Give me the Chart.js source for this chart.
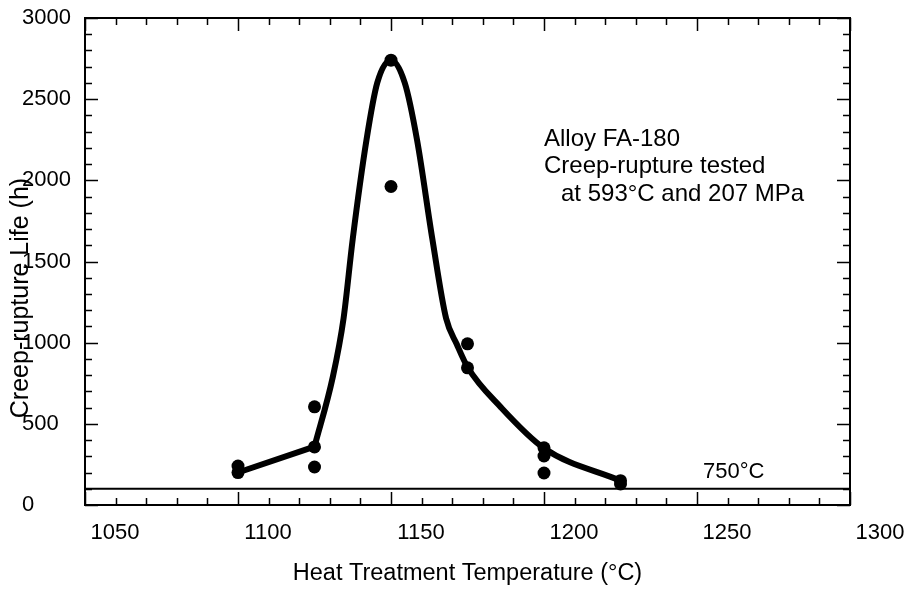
<!DOCTYPE html>
<html lang="en">
<head>
  <meta charset="UTF-8" />
  <title>Alloy FA-180 Creep-rupture Life</title>
  <script src="https://cdn.jsdelivr.net/npm/chart.js"></script>
  <style>
    html, body {
      margin: 0;
      padding: 0;
      background: #fff;
    }
    canvas {
      display: block;
    }
  </style>
</head>
<body>
  <canvas id="creepChart" width="907" height="591"></canvas>

  <script>
    // measured rupture lives (h) at each heat treatment temperature (°C)
    const pointTemps = [1100, 1100, 1125, 1125, 1125, 1150, 1150, 1175, 1175, 1200, 1200, 1200, 1225, 1225];
    const pointLives = [240, 200, 605, 358, 234, 2740, 1962, 993, 845, 352, 302, 197, 150, 130];

    // hand-drawn trend: straight piece at the low end, then the smooth peak
    const lowTemps = [1100, 1125];
    const lowLives = [200, 360];
    const curveTemps = [1125, 1131, 1134.5, 1137.5, 1142, 1145.5, 1150, 1154.5, 1158.5, 1163.5, 1168, 1171.5, 1175, 1186, 1200, 1225];
    const curveLives = [360, 790, 1150, 1640, 2250, 2600, 2740, 2600, 2250, 1640, 1150, 990, 850, 600, 350, 150];

    // 750°C reference line
    const refLife = 100;
    const refLabel = '750°C';

    // axes
    const xMin = 1050, xMax = 1300, xMajor = 50, xMinor = 10;
    const yMin = 0, yMax = 3000, yMajor = 500, yMinor = 100;
    const xTitle = 'Heat Treatment Temperature (°C)';
    const yTitle = 'Creep-rupture Life (h)';
    const noteLines = ['Alloy FA-180', 'Creep-rupture tested', 'at 593°C and 207 MPa'];

    const FONT = '"Liberation Sans", Arial, Helvetica, sans-serif';

    const toXY = (xs, ys) => xs.map((t, i) => ({ x: t, y: ys[i] }));

    // inward tick marks on all four sides, the frame and the free text
    const frameAndTicks = {
      id: 'frameAndTicks',
      afterDraw(chart) {
        const { ctx, chartArea: a, scales: { x, y } } = chart;
        ctx.save();
        ctx.strokeStyle = '#000';
        ctx.lineWidth = 1.5;
        ctx.beginPath();
        for (let i = 0; i <= (xMax - xMin) / xMinor; i++) {
          const t = xMin + i * xMinor;
          const px = Math.round(x.getPixelForValue(t)) + 0.5;
          const len = (t - xMin) % xMajor === 0 ? 13 : 7;
          ctx.moveTo(px, a.bottom); ctx.lineTo(px, a.bottom - len);
          ctx.moveTo(px, a.top); ctx.lineTo(px, a.top + len);
        }
        for (let i = 0; i <= (yMax - yMin) / yMinor; i++) {
          const v = yMin + i * yMinor;
          const py = Math.round(y.getPixelForValue(v)) + 0.5;
          const len = (v - yMin) % yMajor === 0 ? 13 : 7;
          ctx.moveTo(a.left, py); ctx.lineTo(a.left + len, py);
          ctx.moveTo(a.right, py); ctx.lineTo(a.right - len, py);
        }
        ctx.stroke();

        ctx.lineWidth = 2;
        ctx.strokeRect(a.left, a.top, a.right - a.left, a.bottom - a.top);

        ctx.fillStyle = '#000';

        // y title overlaps the tick labels, as in the original
        ctx.save();
        ctx.translate(21, a.top + (a.bottom - a.top) * 0.575);
        ctx.rotate(-Math.PI / 2);
        ctx.font = '25px ' + FONT;
        ctx.textAlign = 'center';
        ctx.textBaseline = 'middle';
        ctx.fillText(yTitle, 0, 0);
        ctx.restore();

        // reference line label
        ctx.font = '22px ' + FONT;
        ctx.textAlign = 'left';
        ctx.textBaseline = 'alphabetic';
        ctx.fillText(refLabel, x.getPixelForValue(1252), y.getPixelForValue(refLife) - 11);

        // test conditions note
        ctx.font = '24px ' + FONT;
        const nx = x.getPixelForValue(1200);
        const baselines = [146, 173, 201];
        const indents = [0, 0, 17];
        noteLines.forEach((s, i) => ctx.fillText(s, nx + indents[i], baselines[i]));

        ctx.restore();
      }
    };

    const ctx = document.getElementById('creepChart').getContext('2d');

    const trendStyle = {
      showLine: true,
      borderColor: '#000',
      borderWidth: 6,
      pointRadius: 0,
      borderCapStyle: 'round',
      borderJoinStyle: 'round',
      order: 2
    };

    new Chart(ctx, {
      type: 'scatter',
      data: {
        datasets: [
          {
            label: 'Measured',
            data: toXY(pointTemps, pointLives),
            pointRadius: 6.5,
            pointBackgroundColor: '#000',
            pointBorderWidth: 0,
            showLine: false,
            order: 1
          },
          {
            label: 'Trend (low)',
            data: toXY(lowTemps, lowLives),
            ...trendStyle,
            tension: 0
          },
          {
            label: 'Trend',
            data: toXY(curveTemps, curveLives),
            ...trendStyle,
            cubicInterpolationMode: 'monotone'
          },
          {
            label: refLabel,
            data: [{ x: xMin, y: refLife }, { x: xMax, y: refLife }],
            showLine: true,
            borderColor: '#000',
            borderWidth: 1.8,
            pointRadius: 0,
            order: 3
          }
        ]
      },
      options: {
        responsive: false,
        animation: false,
        layout: {
          padding: { left: 22, top: 18, right: 57, bottom: 0 }
        },
        plugins: {
          legend: { display: false },
          tooltip: { enabled: false }
        },
        scales: {
          x: {
            type: 'linear',
            min: xMin,
            max: xMax,
            afterFit: s => { s.height = 86; },
            grid: { display: false, drawTicks: false },
            border: { display: false },
            ticks: {
              stepSize: xMajor,
              autoSkip: false,
              maxRotation: 0,
              labelOffset: 30,
              padding: 15,
              color: '#000',
              font: { family: FONT, size: 22 },
              callback: v => String(v)
            },
            title: {
              display: true,
              text: xTitle,
              color: '#000',
              font: { family: FONT, size: 23.5 },
              padding: { top: 0, bottom: 3 }
            }
          },
          y: {
            min: yMin,
            max: yMax,
            afterFit: s => { s.width = 63; },
            grid: { display: false, drawTicks: false },
            border: { display: false },
            ticks: {
              stepSize: yMajor,
              crossAlign: 'far',
              color: '#000',
              font: { family: FONT, size: 22 },
              callback: v => String(v)
            }
          }
        }
      },
      plugins: [frameAndTicks]
    });
  </script>
</body>
</html>
